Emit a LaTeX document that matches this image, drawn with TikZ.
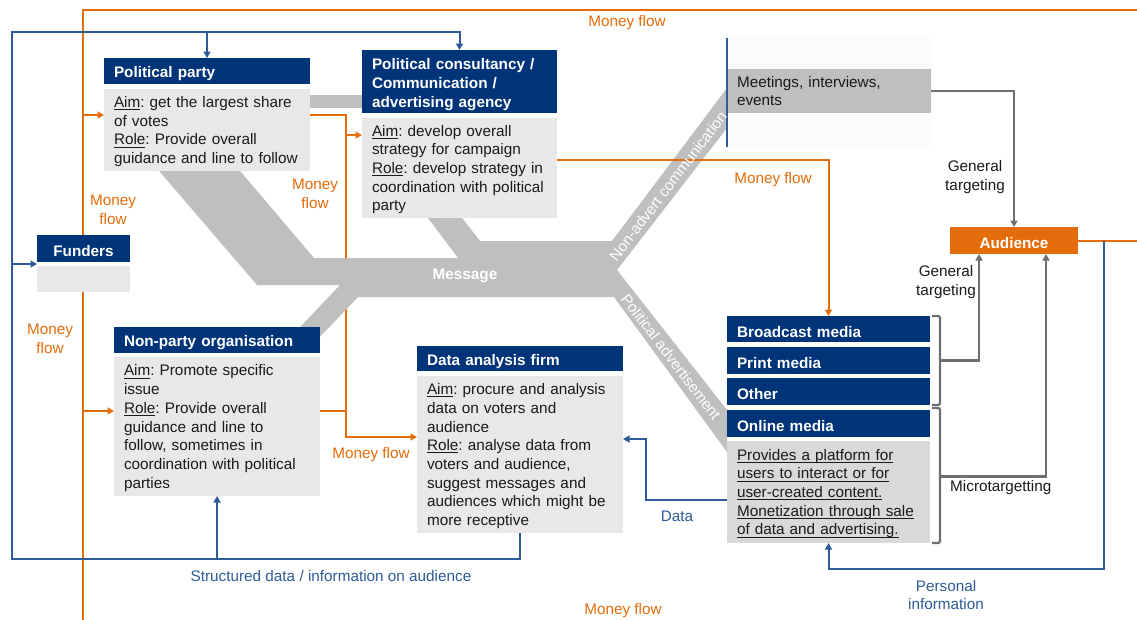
\documentclass[tikz,border=0pt]{standalone}
\usepackage{fontspec}
\setmainfont{Liberation Sans}
\usetikzlibrary{arrows.meta,calc}
\pgfdeclarelayer{back}
\pgfdeclarelayer{bg}
\pgfsetlayers{back,bg,main}
\definecolor{hdrblue}{HTML}{003479}
\definecolor{bodygray}{HTML}{E8E8E8}
\definecolor{onlgray}{HTML}{D9D9D9}
\definecolor{msggray}{HTML}{BFBFBF}
\definecolor{orng}{HTML}{E46C0A}
\definecolor{lblue}{HTML}{2F5C98}
\definecolor{dgray}{HTML}{6F6F6F}
\definecolor{txt}{HTML}{1A1A1A}
\newcommand\myfs{\fontsize{15.3}{18.7}\selectfont\frenchspacing\hyphenpenalty=10000\exhyphenpenalty=10000 }
\newcommand\myul[1]{\leavevmode\setbox0\hbox{#1}\rlap{\rule[-2.6pt]{\wd0}{0.9pt}}\box0}
\tikzset{
 base/.style={anchor=north west, inner xsep=10pt, inner ysep=0pt, outer sep=0pt, align=left, font=\myfs},
 hdr/.style={base, fill=hdrblue, text=white, font=\myfs\bfseries, execute at begin node={\rule{0pt}{17pt}}},
 bodyb/.style={base, fill=bodygray, text=txt, execute at begin node={\rule{0pt}{14.3pt}}},
 lbl/.style={inner sep=0pt, font=\myfs, align=center},
 olbl/.style={lbl, text=orng},
 blbl/.style={lbl, text=lblue},
 glbl/.style={lbl, text=txt},
 ol/.style={draw=orng, line width=2pt},
 bl/.style={draw=lblue, line width=2pt},
 gl/.style={draw=dgray, line width=2.2pt},
 arr/.style={-{Triangle[length=6.5pt,width=7pt]}},
}
\begin{document}
\begin{tikzpicture}[x=1pt,y=-1pt]
\useasboundingbox (0,0) rectangle (1137,619);
\begin{pgfonlayer}{back}
\fill[white] (0,0) rectangle (1137,619);
\end{pgfonlayer}

% ---------- boxes ----------
\node[hdr, text width=186pt, minimum height=26] (pph) at (104,58) {Political party};
\node[bodyb, text width=186pt, minimum height=82] (ppb) at (104,89) {\myul{Aim}: get the largest share\\of votes\\\myul{Role}: Provide overall\\guidance and line to follow};

\node[hdr, text width=175pt, minimum height=63] (cch) at (362,50) {Political consultancy /\\Communication /\\advertising agency};
\node[bodyb, text width=175pt, minimum height=100] (ccb) at (362,118) {\myul{Aim}: develop overall\\strategy for campaign\\\myul{Role}: develop strategy in\\coordination with political\\party};

\node[hdr, text width=73pt, minimum height=27, align=center] (fuh) at (37,235) {Funders};
\node[bodyb, text width=73pt, minimum height=26] (fub) at (37,266) {};

\node[hdr, text width=186pt, minimum height=26] (nph) at (114,327) {Non-party organisation};
\node[bodyb, text width=186pt, minimum height=139] (npb) at (114,357) {\myul{Aim}: Promote specific\\issue\\\myul{Role}: Provide overall\\guidance and line to\\follow, sometimes in\\coordination with political\\parties};

\node[hdr, text width=186pt, minimum height=25] (dah) at (417,346) {Data analysis firm};
\node[bodyb, text width=186pt, minimum height=157] (dab) at (417,376) {\myul{Aim}: procure and analysis\\data on voters and\\audience\\\myul{Role}: analyse data from\\voters and audience,\\suggest messages and\\audiences which might be\\more receptive};

\node[base, fill=black!1.5, inner xsep=0pt, minimum width=205, minimum height=109] (mtgarea) at (727,38) {};
\node[base, fill=msggray, text=txt, text width=184pt, minimum height=44] (mtg) at (727,69) {Meetings, interviews,\\events};

\node[hdr, text width=183pt, minimum height=26] (bcm) at (727,316) {Broadcast media};
\node[hdr, text width=183pt, minimum height=27] (prm) at (727,347) {Print media};
\node[hdr, text width=183pt, minimum height=27] (oth) at (727,378) {Other};
\node[hdr, text width=183pt, minimum height=27] (onm) at (727,410) {Online media};
\node[bodyb, fill=onlgray, text width=183pt, minimum height=102] (onb) at (727,441) {\myul{Provides a platform for}\\\myul{users to interact or for}\\\myul{user-created content.}\\\myul{Monetization through sale}\\\myul{of data and advertising.}};

\node[hdr, fill=orng, text width=108pt, minimum height=27, align=center] (aud) at (950,227) {Audience};

% ---------- helper coordinates ----------
\coordinate (oTR) at (1140,10);
\coordinate (oBL) at (83,622);
\coordinate (mfv) at (346,0);
\coordinate (bL) at (12,559);
\coordinate (bT) at (12,32);
\coordinate (brx) at (940,0);
\coordinate (pix) at (1104,569);
\coordinate (dx) at (646,0);
\coordinate (ppin) at ($(ppb.north west)+(0,26)$);
\coordinate (ppout) at ($(ppb.north east)+(0,26)$);
\coordinate (npin) at ($(npb.north west)+(0,54)$);
\coordinate (npout) at ($(npb.north east)+(0,54)$);
\coordinate (ccin) at ($(ccb.north west)+(0,17)$);
\coordinate (ccout) at ($(ccb.north east)+(0,42)$);
\coordinate (dain) at ($(dab.north west)+(0,61)$);
\coordinate (dabin) at ($(dab.north east)+(0,63)$);
\coordinate (onbout) at ($(onb.north west)+(0,59)$);
\coordinate (fin) at ($(fuh.south west)+(0,2)$);
\coordinate (m1) at ($(bcm.north east)!0.5!(oth.south east)$);
\coordinate (m2) at ($(onm.north east)!0.5!(onb.south east)$);
\coordinate (aud1) at ($(aud.south)+(-35,0)$);
\coordinate (aud2) at ($(aud.south)+(32,0)$);

% ---------- background layer: money line under message, message shape ----------
\begin{pgfonlayer}{bg}
\draw[ol, arr] (ppout) -- (ppout -| mfv) |- (dain);
\fill[msggray] (154,165) -- (235,165) -- (314,258) -- (458,258) -- (422,210) -- (456,210)
  -- (480,241) -- (612,241) -- (727,88) -- (727,128) -- (617,270) -- (727,410)
  -- (727,452) -- (614,297) -- (358,297) -- (315,342) -- (286,342) -- (340,285)
  -- (257,285) -- cycle;
\fill[msggray] (310,95) rectangle (362,108);
\end{pgfonlayer}

% ---------- orange money flows ----------
\draw[ol] (oTR) -| (fuh.north -| oBL);
\draw[ol] (fub.south -| oBL) -- (oBL);
\draw[ol, arr] (ppin -| oBL) -- (ppin);
\draw[ol, arr] (npin -| oBL) -- (npin);
\draw[ol, arr] (ccin -| mfv) -- (ccin);
\draw[ol] (npout) -- (npout -| mfv);
\draw[ol, arr] (ccout) -| (bcm.north);
\draw[ol] (aud.east) -- (aud.east -| oTR);

% ---------- blue data flows ----------
\draw[bl, arr] (dab.south) |- (bL) -- (bT) -| (cch.north);
\draw[bl, arr] (bT -| pph.north) -- (pph.north);
\draw[bl, arr] (bL -| npb.south) -- (npb.south);
\draw[bl, arr] (fin -| bT) -- (fin);
\draw[bl, arr] (aud.east -| pix) -- (pix) -| (onb.south);
\draw[bl, arr] (onbout) -- (onbout -| dx) |- (dabin);
\draw[lblue, line width=1.2pt] (mtgarea.north west) -- (mtgarea.south west);

% ---------- gray targeting ----------
\draw[gl, arr] (mtg.east) -| (aud.north);
\draw[gl, rounded corners=2pt] ($(bcm.north east)+(2,0)$) -- (bcm.north east -| brx) -- (oth.south east -| brx) -- ($(oth.south east)+(2,0)$);
\draw[gl, rounded corners=2pt] ($(onm.north east)+(2,-2)$) -- ($(onm.north east -| brx)+(0,-2)$) -- (onb.south east -| brx) -- ($(onb.south east)+(2,0)$);
\draw[gl, arr] (m1 -| brx) -| (aud1);
\draw[gl, arr] (m2 -| brx) -| (aud2);

% ---------- labels ----------
\node[olbl] (mf1) at (627,23) {Money flow};
\node[olbl] (mf2) at (113,210) {Money\\flow};
\node[olbl] (mf3) at (315,194) {Money\\flow};
\node[olbl] (mf4) at (50,339) {Money\\flow};
\node[olbl] (mf5) at (773,180) {Money flow};
\node[olbl] (mf6) at (371,455) {Money flow};
\node[olbl] (mf7) at (623,611) {Money flow};
\node[glbl] (gt1) at (975,177) {General\\targeting};
\node[glbl] (gt2) at (946,282) {General\\targeting};
\node[glbl, anchor=west] (mt) at (950,488) {Microtargetting};
\node[blbl] (pi) at (946,595) {Personal\\information};
\node[blbl] (dl) at (677,516) {Data};
\node[blbl] (sd) at (331,576) {Structured data / information on audience};
\node[lbl, text=white, font=\myfs\bfseries] (msg) at (465,276) {Message};
\node[lbl, text=white, rotate=52.7] (nac) at (668,186) {Non-advert communication};
\node[lbl, text=white, rotate=-52.5] (pad) at (671,357) {Political advertisement};
\end{tikzpicture}
\end{document}
